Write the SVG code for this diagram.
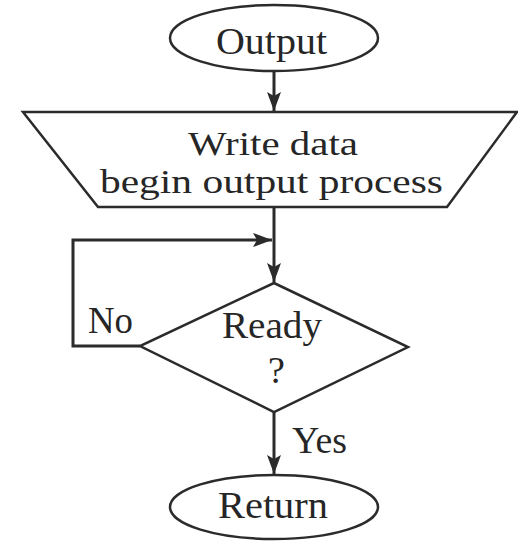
<svg xmlns="http://www.w3.org/2000/svg" width="518" height="541" viewBox="0 0 518 541">
  <style>
    .shape { fill: #ffffff; stroke: #2b2b2b; stroke-width: 2.5; }
    .conn { fill: none; stroke: #2b2b2b; stroke-width: 3; }
    .label { font-family: "Liberation Serif", "Times New Roman", serif; font-size: 38px; fill: #262626; }
    .label.tight { font-size: 34px; }
  </style>
  <defs>
    <marker id="arrow" markerUnits="userSpaceOnUse" markerWidth="20" markerHeight="14" refX="19" refY="7" orient="auto">
      <path d="M0,0 L19,7 L0,14 L4,7 Z" fill="#2b2b2b"/>
    </marker>
  </defs>
  <rect width="518" height="541" fill="#ffffff"/>

  <g id="connectors">
    <line class="conn" x1="274" y1="71" x2="274" y2="111" marker-end="url(#arrow)"/>
    <line class="conn" x1="274" y1="207" x2="274" y2="282" marker-end="url(#arrow)"/>
    <path class="conn" d="M140,346 H73 V240 H272" marker-end="url(#arrow)"/>
    <line class="conn" x1="274" y1="412" x2="274" y2="474" marker-end="url(#arrow)"/>
    <text class="label" x="88" y="333" textLength="45" lengthAdjust="spacingAndGlyphs">No</text>
    <text class="label" x="292" y="453" textLength="55" lengthAdjust="spacingAndGlyphs">Yes</text>
  </g>

  <g id="output">
    <ellipse class="shape" cx="274" cy="38" rx="104" ry="33"/>
    <text class="label" x="216" y="54" textLength="111" lengthAdjust="spacingAndGlyphs">Output</text>
  </g>

  <g id="write-data">
    <polygon class="shape" points="23,112 517,112 447,207 98,207"/>
    <text class="label tight" x="188" y="155" textLength="170" lengthAdjust="spacingAndGlyphs">Write data</text>
    <text class="label tight" x="100" y="193" textLength="343" lengthAdjust="spacingAndGlyphs">begin output process</text>
  </g>

  <g id="ready">
    <polygon class="shape" points="274,283 408,347 274,412 140,346"/>
    <text class="label" x="222" y="338" textLength="100" lengthAdjust="spacingAndGlyphs">Ready</text>
    <text class="label" x="268" y="383">?</text>
  </g>

  <g id="return">
    <ellipse class="shape" cx="274" cy="507" rx="104" ry="32"/>
    <text class="label" x="218" y="518" textLength="110" lengthAdjust="spacingAndGlyphs">Return</text>
  </g>
</svg>
